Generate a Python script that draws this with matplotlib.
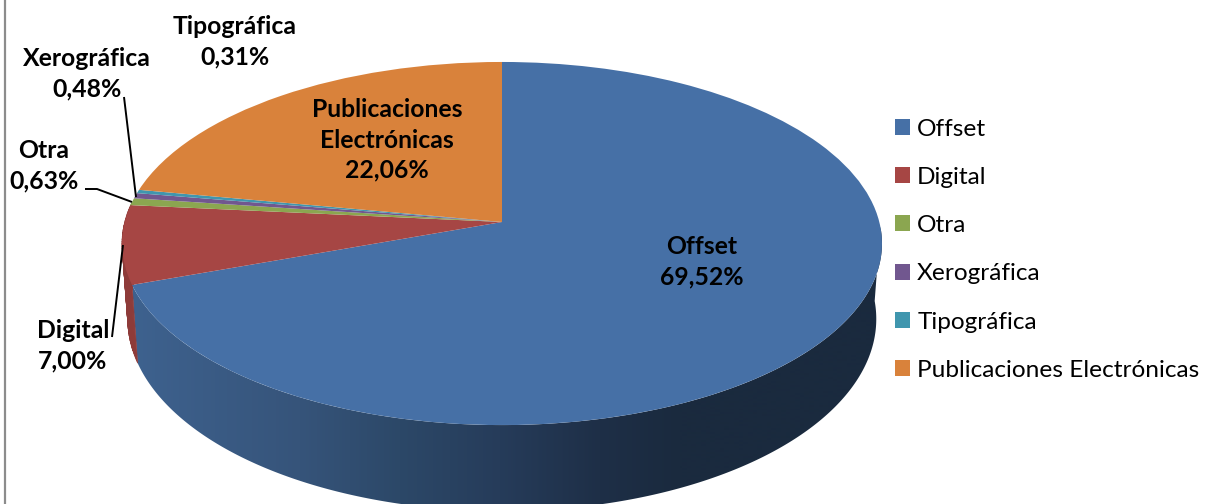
import numpy as np
import matplotlib
matplotlib.use("Agg")
import matplotlib.pyplot as plt
from matplotlib.collections import PolyCollection
from matplotlib.colors import to_rgb
from matplotlib.patches import Polygon
from matplotlib.transforms import Transform

categories = ["Offset", "Digital", "Otra", "Xerográfica", "Tipográfica", "Publicaciones Electrónicas"]
values = [69.52, 7.00, 0.63, 0.48, 0.31, 22.06]
top_colors = ["#4670A6", "#A64644", "#8BA650", "#71578F", "#4096AE", "#D9823B"]
wall_colors = ["#3A5C88", "#8E3B39", "#76904A", "#5F4A7A", "#367F94", "#B96F32"]
label_names = ["Offset", "Digital", "Otra", "Xerográfica", "Tipográfica", "Publicaciones\nElectrónicas"]

plt.rcParams["font.family"] = ["Lato", "DejaVu Sans"]

W, H = 1205, 504
CX, CY = 502.0, 222.0
A, B, K = 377.3, 179.0, 0.1185


def project(u, v):
    den = 1 - K * v
    return CX + A * u / den, CY + B * v / den


class Perspective(Transform):
    input_dims = output_dims = 2
    is_affine = False
    has_inverse = False

    def transform_non_affine(self, pts):
        pts = np.asarray(pts, float)
        x, y = project(pts[:, 0], -pts[:, 1])
        return np.column_stack([x, y])


fig = plt.figure(figsize=(W / 100, H / 100), dpi=100, facecolor="white")
ax = fig.add_axes([0, 0, 1, 1])

wedges, _ = ax.pie(values, colors=top_colors, startangle=90, counterclock=False, radius=1.0)
persp = Perspective() + ax.transData
for w in wedges:
    w.set_transform(persp)
    w.set_zorder(3)
    w.set_linewidth(0)


def rim(theta):
    u, v = np.sin(theta), -np.cos(theta)
    x, y = project(u, v)
    xb = CX + 0.985 * (x - CX)
    yb = y + 74 + 12 * v
    return x, y, xb, yb, v


edges = np.cumsum([0] + values) / 100 * 2 * np.pi

# front wall of the largest slice: horizontal gradient clipped to the wall outline
grad_x = [130, 300, 400, 500, 600, 680, 890]
grad_rgb = np.array([[62, 98, 143], [54, 84, 122], [44, 72, 104], [38, 60, 90],
                     [30, 47, 71], [26, 42, 62], [26, 42, 62]]) / 255
th = np.linspace(edges[0], edges[1], 600)
x, y, xb, yb, v = rim(th)
front = v > 0.02
outline = np.column_stack([np.r_[x[front], xb[front][::-1]], np.r_[y[front], yb[front][::-1]]])
xs = np.arange(0, W + 1)
grad = np.stack([np.interp(xs, grad_x, grad_rgb[:, c]) for c in range(3)], axis=-1)[None, :, :]
clip = Polygon(outline, closed=True, facecolor="none", edgecolor="none", transform=ax.transData)
ax.add_patch(clip)
im = ax.imshow(grad, extent=(0, W, H, 0), aspect="auto", zorder=2, interpolation="bilinear")
im.set_clip_path(clip)

# remaining slices' walls
polys, cols = [], []
for i in range(1, len(values)):
    n = max(2, int((edges[i + 1] - edges[i]) * 80))
    th = np.linspace(edges[i], edges[i + 1], n + 1)
    x, y, xb, yb, v = rim(th)
    for j in range(n):
        if v[j] > 0.0 or v[j + 1] > -0.12:
            polys.append([(x[j], y[j]), (x[j + 1], y[j + 1]), (xb[j + 1], yb[j + 1]), (xb[j], yb[j])])
            cols.append(to_rgb(wall_colors[i]))
ax.add_collection(PolyCollection(polys, facecolors=cols, edgecolors=cols, linewidths=0.5, zorder=2))

ax.set_aspect("auto")
ax.set_xlim(0, W)
ax.set_ylim(H, 0)
ax.axis("off")

# data labels
label_pos = [(702, 262), (73, 346), (44, 166), (87, 74), (235, 42), (387, 140)]
for name, val, (lx, ly) in zip(label_names, values, label_pos):
    ax.text(lx, ly, f"{name}\n{val:.2f}%".replace(".", ","), ha="center", va="center",
            fontsize=17.8, fontweight="bold", color="black", linespacing=1.37, zorder=5)

# leader lines
for lxs, lys in [([124, 136], [97, 197]),
                 ([85, 97, 132], [189, 189, 202]),
                 ([123, 112], [245, 337])]:
    ax.plot(lxs, lys, color="black", lw=1.4, zorder=4, solid_capstyle="butt")

# left frame line
ax.plot([4.5, 4.5], [0, H], color="#8C8C8C", lw=1.6, zorder=1)

ax.legend(wedges, categories, loc="upper left", bbox_to_anchor=(895, 118.5),
          bbox_transform=ax.transData, frameon=False, fontsize=17.6, borderpad=0,
          borderaxespad=0, handlelength=0.62, handleheight=0.62, handletextpad=0.29,
          labelspacing=1.115)

fig.savefig("out.png", dpi=100, facecolor="white")
